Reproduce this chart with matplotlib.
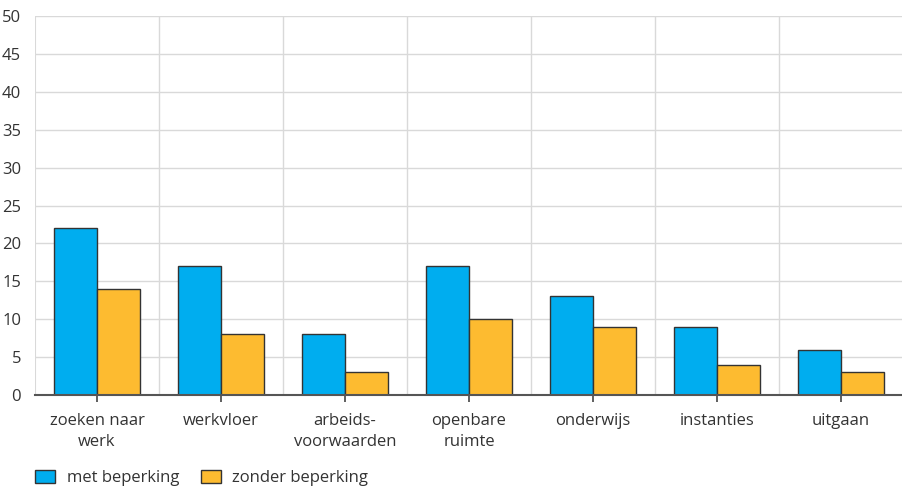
import matplotlib
matplotlib.use("Agg")
import matplotlib.pyplot as plt
import numpy as np
from matplotlib.patches import Patch

categories = ["zoeken naar\nwerk", "werkvloer", "arbeids-\nvoorwaarden", "openbare\nruimte",
              "onderwijs", "instanties", "uitgaan"]
met_beperking = [22, 17, 8, 17, 13, 9, 6]
zonder_beperking = [14, 8, 3, 10, 9, 4, 3]
yticks = list(range(0, 51, 5))

blue = "#00ADEF"
orange = "#FDBB30"
edge = "#333333"

plt.rcParams["font.family"] = ["Open Sans", "DejaVu Sans"]

fig = plt.figure(figsize=(9.03, 4.86), dpi=100)
ax = fig.add_axes([35 / 903, 91 / 486, 868 / 903, 379 / 486])

x = np.arange(len(categories))
w = 0.35
ax.bar(x - w / 2, met_beperking, w, color=blue, edgecolor=edge, linewidth=1.0, zorder=3)
ax.bar(x + w / 2, zonder_beperking, w, color=orange, edgecolor=edge, linewidth=1.0, zorder=3)

ax.set_xlim(-0.5, len(categories) - 0.5)
ax.set_ylim(0, 50)
ax.set_yticks(yticks)
ax.set_yticklabels([str(v) for v in yticks], fontsize=12, color="#333333")
ax.set_xticks(x)
ax.set_xticklabels(categories, fontsize=12, color="#333333", linespacing=1.4)
ax.tick_params(axis="y", length=0, pad=10)
ax.tick_params(axis="x", length=5, width=1.2, color="#444444", pad=8)

for yv in yticks[1:]:
    ax.axhline(yv, color="#d9d9d9", linewidth=1.0, zorder=1)
for xv in np.arange(0.5, len(categories) - 0.5, 1.0):
    ax.axvline(xv, color="#d9d9d9", linewidth=1.0, zorder=1)
ax.axvline(-0.5, color="#d9d9d9", linewidth=1.5, zorder=1)

for side in ["top", "right", "left"]:
    ax.spines[side].set_visible(False)
ax.spines["bottom"].set_color("#555555")
ax.spines["bottom"].set_linewidth(1.5)
ax.spines["bottom"].set_zorder(4)

handles = [Patch(facecolor=blue, edgecolor=edge, label="met beperking"),
           Patch(facecolor=orange, edgecolor=edge, label="zonder beperking")]
fig.legend(handles=handles, loc="center left", bbox_to_anchor=(20 / 903, 1 - 478 / 486), ncol=2,
           frameon=False, fontsize=12, handlelength=1.2, handleheight=0.85,
           columnspacing=1.3, handletextpad=0.7, labelcolor="#333333")

fig.savefig("out.png", dpi=100)
